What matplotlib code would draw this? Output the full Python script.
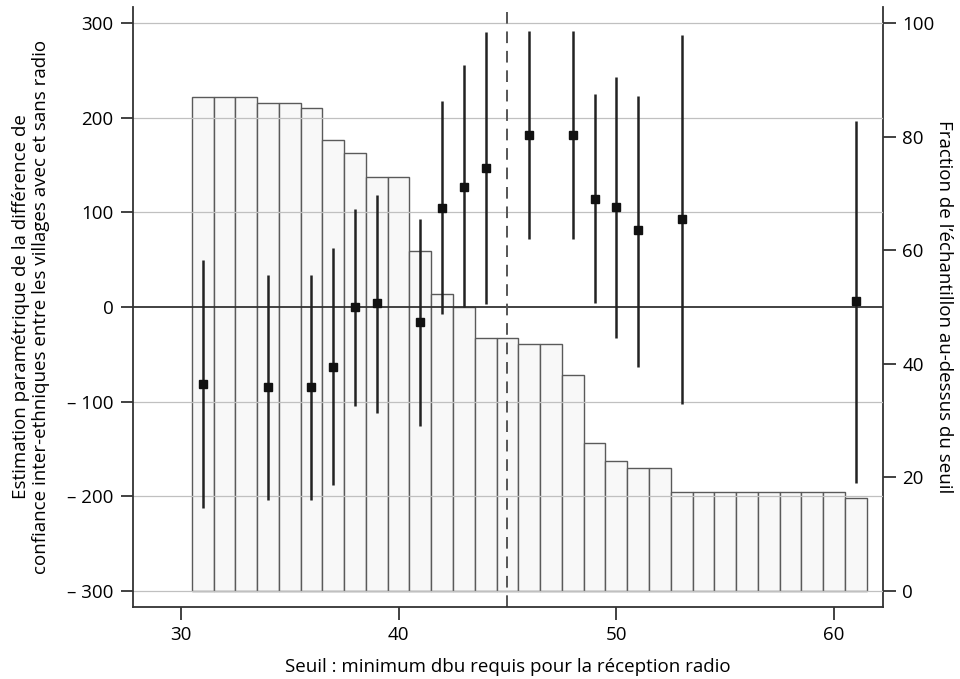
import matplotlib
matplotlib.use('Agg')
import matplotlib.pyplot as plt

plt.rcParams['font.family'] = ['Open Sans', 'DejaVu Sans']

# histogram: fraction of sample above threshold (right axis)
bar_x = list(range(31, 62))
bar_frac = [87, 87, 87, 86, 86, 85, 79.4, 77.2, 72.9, 72.9, 59.9, 52.3, 50.0,
            44.5, 44.5, 43.5, 43.5, 38.0, 26.1, 22.8, 21.7, 21.7,
            17.5, 17.5, 17.5, 17.5, 17.5, 17.5, 17.5, 17.5, 16.3]

# point estimates with confidence intervals (left axis)
pt_x = [31, 34, 36, 37, 38, 39, 41, 42, 43, 44, 46, 48, 49, 50, 51, 53, 61]
pt_est = [-81, -85, -85, -63, 0, 4, -16, 105, 127, 147, 182, 182, 114, 106, 81, 93, 6]
pt_lo = [-212, -204, -204, -188, -105, -112, -126, -7, 0, 3, 72, 72, 4, -33, -63, -102, -186]
pt_hi = [50, 34, 34, 62, 104, 118, 93, 218, 256, 291, 292, 292, 225, 243, 223, 287, 197]

threshold = 45
left_ticks = [-300, -200, -100, 0, 100, 200, 300]
left_labels = ['– 300', '– 200', '– 100', '0', '100', '200', '300']
right_ticks = [0, 20, 40, 60, 80, 100]
x_ticks = [30, 40, 50, 60]

fs = 13.5

fig = plt.figure(figsize=(9.6, 6.79), dpi=100)
ax = fig.add_axes([0.1385, 0.106, 0.7813, 0.8837])
ax2 = ax.twinx()

# bars on the right axis, drawn below the left axis
ax2.bar(bar_x, bar_frac, width=1.0, color='#f8f8f8', edgecolor='#5a5a5a', linewidth=1.0)
ax2.set_ylim((-317 + 300) / 6, (317 + 300) / 6)
ax2.set_yticks(right_ticks)

ax.set_zorder(ax2.get_zorder() + 1)
ax.patch.set_visible(False)

for t in left_ticks:
    if t == 0:
        ax.axhline(t, color='#333333', linewidth=1.3, zorder=2)
    else:
        ax.axhline(t, color='#c0c0c0', linewidth=0.9, zorder=1)

ax.axvline(threshold, color='#555555', linewidth=1.4, linestyle=(0, (6, 4)), zorder=2)

ax.vlines(pt_x, pt_lo, pt_hi, color='#222222', linewidth=1.8, zorder=3)
ax.plot(pt_x, pt_est, 's', color='#111111', markersize=6, zorder=4)

ax.set_xlim(27.8, 62.25)
ax.set_ylim(-317, 317)
ax.set_xticks(x_ticks)
ax.set_yticks(left_ticks)
ax.set_yticklabels(left_labels)

for a in (ax, ax2):
    a.spines['top'].set_visible(False)
    for s in ('left', 'right', 'bottom'):
        a.spines[s].set_color('#333333')
        a.spines[s].set_linewidth(1.3)
    a.tick_params(direction='out', length=9, width=1.3, color='#333333',
                  labelsize=fs, pad=5)
ax.spines['right'].set_visible(False)
ax2.spines['left'].set_visible(False)
ax2.spines['bottom'].set_visible(False)

ax.set_xlabel('Seuil : minimum dbu requis pour la réception radio', fontsize=fs, labelpad=10)
ax.set_ylabel('Estimation paramétrique de la différence de\n'
              'confiance inter-ethniques entre les villages avec et sans radio',
              fontsize=fs, labelpad=12, linespacing=1.15)
ax2.set_ylabel('Fraction de l’échantillon au-dessus du seuil', fontsize=fs,
               rotation=270, labelpad=13)

fig.savefig('out.png', dpi=100)
